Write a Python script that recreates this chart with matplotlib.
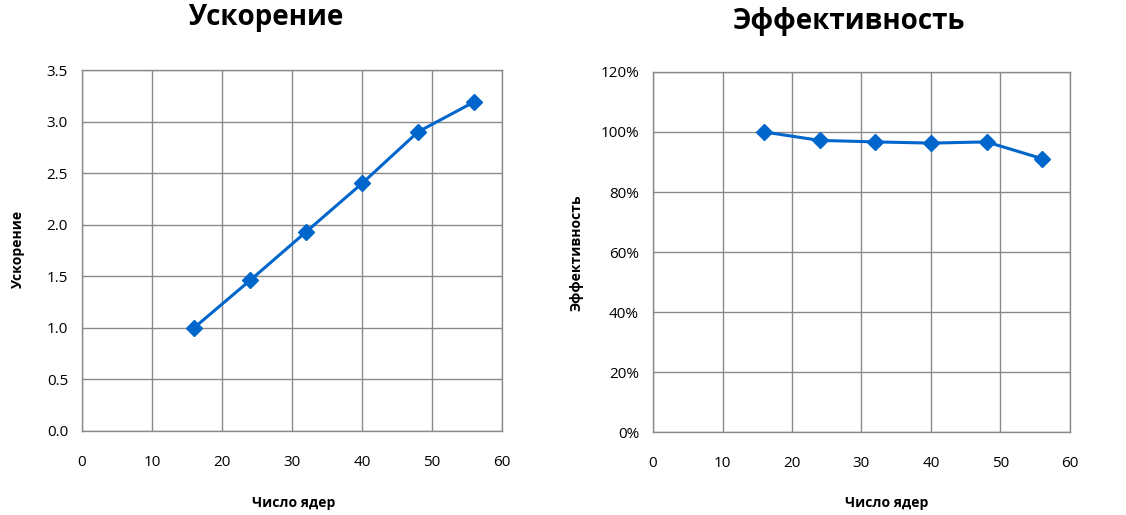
import matplotlib
matplotlib.use("Agg")
import matplotlib.pyplot as plt
from matplotlib.ticker import FuncFormatter, MultipleLocator

plt.rcParams['font.family'] = ['Open Sans', 'DejaVu Sans']

# ---- data ----
cores = [16, 24, 32, 40, 48, 56]
speedup = [1.0, 1.46, 1.93, 2.40, 2.90, 3.19]
efficiency = [1.00, 0.972, 0.967, 0.963, 0.967, 0.911]

title_left = "Ускорение"
title_right = "Эффективность"
xlabel = "Число ядер"
ylabel_left = "Ускорение"
ylabel_right = "Эффективность"

W, H = 1126, 515
fig = plt.figure(figsize=(W / 100, H / 100), dpi=100)

LINE = '#0066CC'
GRID = '#8a8a8a'

def px_axes(l, t, r, b):
    return fig.add_axes([l / W, 1 - b / H, (r - l) / W, (b - t) / H])

axL = px_axes(82, 70, 502, 431)
axR = px_axes(653, 72, 1070, 432)

for ax in (axL, axR):
    ax.set_xlim(0, 60)
    ax.xaxis.set_major_locator(MultipleLocator(10))
    ax.grid(True, color=GRID, linewidth=1.0)
    ax.set_axisbelow(True)
    for s in ax.spines.values():
        s.set_color(GRID)
        s.set_linewidth(1.0)
    ax.tick_params(length=0, labelsize=11, colors='black', pad=17)
    ax.tick_params(axis='y', pad=10)

axL.set_ylim(0, 3.5)
axL.yaxis.set_major_locator(MultipleLocator(0.5))
axL.yaxis.set_major_formatter(FuncFormatter(lambda v, p: f"{v:.1f}"))
axL.plot(cores, speedup, color=LINE, linewidth=2.2, marker='D', markersize=8.5,
         markeredgecolor=LINE, markerfacecolor=LINE)

axR.set_ylim(0, 1.2)
axR.yaxis.set_major_locator(MultipleLocator(0.2))
axR.yaxis.set_major_formatter(FuncFormatter(lambda v, p: f"{v*100:.0f}%"))
axR.plot(cores, efficiency, color=LINE, linewidth=2.2, marker='D', markersize=8.5,
         markeredgecolor=LINE, markerfacecolor=LINE)

# titles and labels
fig.text(266 / W, 1 - 18 / H, title_left, ha='center', va='center',
         fontsize=20, fontweight='bold')
fig.text(849 / W, 1 - 22 / H, title_right, ha='center', va='center',
         fontsize=20, fontweight='bold')
fig.text(294 / W, 1 - 503 / H, xlabel, ha='center', va='center',
         fontsize=10, fontweight='bold')
fig.text(887 / W, 1 - 503 / H, xlabel, ha='center', va='center',
         fontsize=10, fontweight='bold')
fig.text(18 / W, 1 - 249 / H, ylabel_left, ha='center', va='center',
         fontsize=10, fontweight='bold', rotation=90)
fig.text(577 / W, 1 - 253 / H, ylabel_right, ha='center', va='center',
         fontsize=10, fontweight='bold', rotation=90)

fig.savefig("out.png", dpi=100, facecolor='white')
